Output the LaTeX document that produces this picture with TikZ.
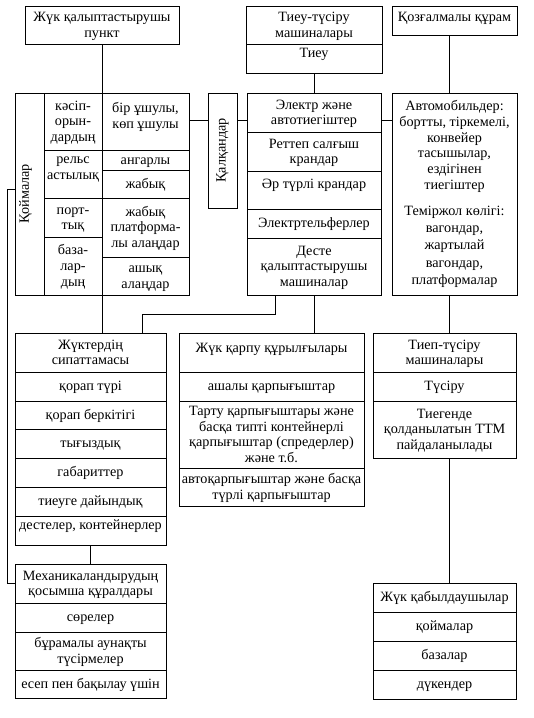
\documentclass[tikz,border=0pt]{standalone}
\usepackage{fontspec}
\setmainfont{Liberation Serif}
\tikzset{
  every node/.style={font=\fontsize{14.2}{15.8}\selectfont},
  box/.style={draw, line width=0.8pt, inner sep=0pt, outer sep=0pt, anchor=north west},
  link/.style={line width=0.8pt}
}
% cell text: [vertical pos]{width}{height}{text}
\newcommand{\cellt}[4][c]{\parbox[c][#3pt][#1]{#2pt}{\centering\vspace*{2.5pt}\strut#4\strut\par}}
\newcommand{\lowstart}[1]{\rule{0pt}{#1pt}}
\begin{document}
\begin{tikzpicture}[x=1pt,y=-1pt]
  \useasboundingbox (0,0) rectangle (534,718);
  % top row
  \node[box] (punkt) at (25,6) {\cellt{154}{38}{Жүк қалыптастырушы\\пункт}};
  \node[box] (tt) at (246,6) {\cellt{136}{38}{Тиеу-түсіру\\машиналары}};
  \node[box] (tieu) at (246,44) {\cellt[t]{136}{29}{Тиеу}};
  \node[box] (kozg) at (392,6) {\cellt[t]{125}{29}{\lowstart{13}Қозғалмалы құрам}};
  % warehouses table
  \node[box, minimum width=29pt, minimum height=202pt] (qoima) at (15,93) {};
  \node[rotate=90] (qoimatext) at ([xshift=-4pt]qoima.center) {Қоймалар};
  \node[box] (kasip) at (44,93) {\cellt{58}{57}{кәсіп-\\орын-\\дардың}};
  \node[box] (rels) at (44,150) {\cellt[t]{58}{48}{рельс\\астылық}};
  \node[box] (port) at (44,198) {\cellt{58}{39}{порт-\\тық}};
  \node[box] (baza) at (44,237) {\cellt{58}{58}{база-\\лар-\\дың}};
  \node[box] (bir) at (102,93) {\cellt[t]{87}{57}{\lowstart{17}бір ұшулы,\\көп ұшулы}};
  \node[box] (angar) at (102,150) {\cellt{87}{20}{ангарлы}};
  \node[box] (jabyq) at (102,170) {\cellt{87}{28}{жабық}};
  \node[box] (platf) at (102,198) {\cellt{87}{59}{жабық\\платформа-\\лы алаңдар}};
  \node[box] (ashyq) at (102,257) {\cellt{87}{38}{ашық\\алаңдар}};
  % shields
  \node[box, minimum width=29pt, minimum height=115pt] (qalqan) at (208,93) {};
  \node[rotate=90] (qalqantext) at (qalqan.center) {Қалқандар};
  % loaders column
  \node[box] (elektr) at (247,93) {\cellt{134}{39}{Электр және\\автотиегіштер}};
  \node[box] (rettep) at (247,132) {\cellt{134}{39}{Реттеп салғыш\\крандар}};
  \node[box] (artur) at (247,171) {\cellt[t]{134}{38}{\lowstart{15}Әр түрлі крандар}};
  \node[box] (telfer) at (247,209) {\cellt{134}{29}{Электртельферлер}};
  \node[box] (deste) at (247,238) {\cellt{134}{57}{Десте\\қалыптастырушы\\машиналар}};
  % rolling stock
  \node[box] (avto) at (392,93) {\cellt[t]{125}{202}{\lowstart{15}Автомобильдер:\\бортты, тіркемелі,\\конвейер\\тасышылар,\\ездігінен\\тиегіштер\\[10pt]Теміржол көлігі:\\[1.5pt]вагондар,\\[1.5pt]жартылай\\[1.5pt]вагондар,\\[1.5pt]платформалар}};
  % cargo properties
  \node[box] (jukter) at (15,333) {\cellt{151}{39}{Жүктердің\\сипаттамасы}};
  \node[box] (korap) at (15,372) {\cellt{151}{29}{қорап түрі}};
  \node[box] (berk) at (15,401) {\cellt{151}{28}{қорап беркітігі}};
  \node[box] (tygyz) at (15,429) {\cellt{151}{29}{тығыздық}};
  \node[box] (gabar) at (15,458) {\cellt{151}{29}{габариттер}};
  \node[box] (daiyn) at (15,487) {\cellt{151}{29}{тиеуге дайындық}};
  \node[box] (destel) at (15,516) {\cellt[t]{151}{29}{дестелер, контейнерлер}};
  % grippers
  \node[box] (qarpu) at (179,333) {\cellt[t]{185}{39}{\lowstart{17}Жүк қарпу құрылғылары}};
  \node[box] (asha) at (179,372) {\cellt{185}{29}{ашалы қарпығыштар}};
  \node[box] (tartu) at (179,401) {\cellt{185}{67}{Тарту қарпығыштары және\\басқа типті контейнерлі\\қарпығыштар (спредерлер)\\және т.б.}};
  \node[box] (avtoq) at (179,468) {\cellt{185}{38}{автоқарпығыштар және басқа\\түрлі қарпығыштар}};
  % unloading machines
  \node[box] (tiep) at (373,333) {\cellt{143}{39}{Тиеп-түсіру\\машиналары}};
  \node[box] (tusiru) at (373,372) {\cellt{143}{29}{Түсіру}};
  \node[box] (tiegende) at (373,401) {\cellt{143}{57}{Тиегенде\\қолданылатын ТТМ\\пайдаланылады}};
  % auxiliary means
  \node[box] (mex) at (15,564) {\cellt{151}{39}{Механикаландырудың\\қосымша құралдары}};
  \node[box] (serel) at (15,603) {\cellt{151}{29}{сөрелер}};
  \node[box] (bur) at (15,632) {\cellt{151}{38}{бұрамалы аунақты\\түсірмелер}};
  \node[box] (esep) at (15,670) {\cellt{151}{28}{есеп пен бақылау үшін}};
  % receivers
  \node[box] (qabyl) at (373,583) {\cellt{143}{29}{Жүк қабылдаушылар}};
  \node[box] (qoimal) at (373,612) {\cellt{143}{29}{қоймалар}};
  \node[box] (bazal) at (373,641) {\cellt{143}{29}{базалар}};
  \node[box] (duken) at (373,670) {\cellt{143}{29}{дүкендер}};
  % connectors
  \coordinate (hrow) at (0,120);
  \coordinate (rline) at (449,0);
  \coordinate (spine) at (7,189);
  \coordinate (jog) at (275,314);
  \coordinate (jog2) at (142,314);
  \draw[link] (punkt.south) -- (kasip.north east);
  \draw[link] (tieu.south) -- (elektr.north);
  \draw[link] (kozg.south -| rline) -- (avto.north -| rline);
  \draw[link] (bir.east |- hrow) -- (qalqan.west |- hrow);
  \draw[link] (qalqan.east |- hrow) -- (elektr.west |- hrow);
  \draw[link] (elektr.east |- hrow) -- (avto.west |- hrow);
  \draw[link] (qoima.west |- spine) -- (spine) -- (spine |- mex.west) -- (mex.west);
  \draw[link] (baza.south east) -- (baza.south east |- jukter.north);
  \draw[link] (deste.south -| jog) -- (jog) -- (jog2) -- (jog2 |- jukter.north);
  \draw[link] (deste.south) -- (deste.south |- qarpu.north);
  \draw[link] (avto.south -| rline) -- (tiep.north -| rline);
  \draw[link] (tiegende.south -| rline) -- (qabyl.north -| rline);
  \draw[link] (destel.south) -- (mex.north);
\end{tikzpicture}
\end{document}
